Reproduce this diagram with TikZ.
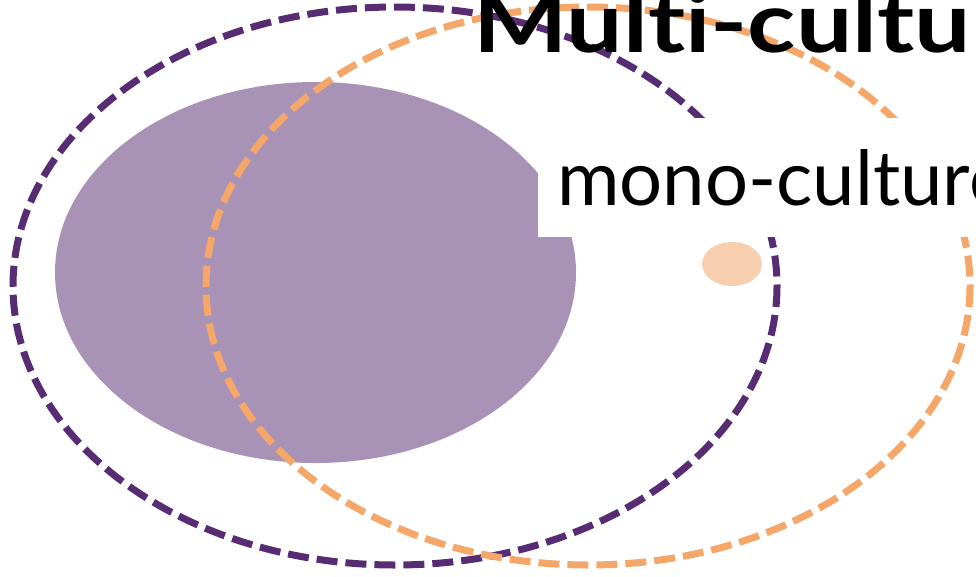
\documentclass[tikz,border=0pt]{standalone}
\usepackage{fontspec}
\setmainfont{Lato}[Ligatures=NoCommon]
\usepackage{tikz}
\usetikzlibrary{positioning}
\definecolor{purpledark}{HTML}{582C73}
\definecolor{purplefill}{HTML}{A892B5}
\definecolor{orangeline}{HTML}{F4A768}
\definecolor{orangefill}{HTML}{F8CFAE}

\tikzset{
  ringline/.style={line width=7pt, dash pattern=on 21pt off 8pt},
}

\begin{document}
\begin{tikzpicture}[x=1pt,y=-1pt]
  \useasboundingbox (0,0) rectangle (976,576);
  \clip (0,0) rectangle (976,576);
  \def\rx{382}
  \def\ry{279}
  \fill[purplefill] (315.5,272.5) ellipse [x radius=260.5, y radius=190.5];
  \draw[ringline,purpledark] (395,286) ellipse [x radius=\rx, y radius=\ry];
  \draw[ringline,orangeline] (588,286) ellipse [x radius=\rx, y radius=\ry];
  \fill[orangefill] (732,264) ellipse [x radius=30, y radius=22];
  \fill[white] (538,118) rectangle (990,237);
  \node[anchor=base west,inner sep=0pt,font=\fontsize{76}{80}\selectfont] (mono) at (557,205) {mono-culture};
  \node[anchor=base west,inner sep=0pt,xscale=1.19,font=\fontsize{84}{88}\selectfont\bfseries] (multi) at (473,52) {Multi-culture};
\end{tikzpicture}
\end{document}
